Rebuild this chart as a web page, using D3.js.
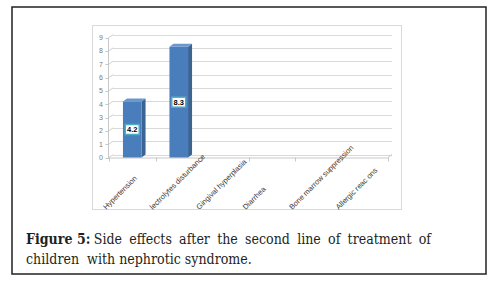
<!DOCTYPE html>
<html>
<head>
<meta charset="utf-8">
<script src="https://cdn.jsdelivr.net/npm/d3@7"></script>
<style>
    body { margin: 0; background: #fff; }
    svg { display: block; }
</style>
</head>
<body>
<script>
// chart values
var categories = ["Hypertension", "lectrolytes disturbance",
    "Gingival hyperplasia", "Diarrhea", "Bone marrow suppression",
    "Allergic reac ons"];
var values = [4.2, 8.3, null, null, null, null];
var yTicks = [0, 1, 2, 3, 4, 5, 6, 7, 8, 9];

var captionBold = "Figure 5:";
var captionLine1 = ["Side", "effects", "after", "the", "second", "line",
    "of", "treatment", "of"];
var captionLine2 = "children  with nephrotic syndrome.";

var W = 499, H = 283;
var depth = {x: 4, y: 3}; // fake 3d offset of the back wall

var svg = d3.select("body").append("svg")
    .attr("width", W)
    .attr("height", H);

// outer figure frame
svg.append("rect")
    .attr("x", 12).attr("y", 7)
    .attr("width", 474).attr("height", 267)
    .attr("fill", "none")
    .attr("stroke", "#222")
    .attr("stroke-width", 1.5);

// chart area frame
svg.append("rect")
    .attr("x", 92.5).attr("y", 25.5)
    .attr("width", 309).attr("height", 184)
    .attr("fill", "#fff")
    .attr("stroke", "#d9d9d9");

var xScale = d3.scaleBand()
    .domain(categories)
    .range([109, 388])
    .paddingInner(0.6)
    .paddingOuter(0.3);

var yScale = d3.scaleLinear()
    .domain([0, 9])
    .range([157.5, 37.5]);

var x0 = xScale.range()[0], x1 = xScale.range()[1];
var step = xScale.step();

// back wall gridlines + the little diagonal joining them to the axis
var grid = svg.append("g").attr("class", "grid");
grid.selectAll("line.wall")
    .data(yTicks)
    .enter().append("line")
    .attr("class", "wall")
    .attr("x1", x0 + depth.x)
    .attr("x2", x1 + depth.x)
    .attr("y1", function(d) { return Math.round(yScale(d) - depth.y) + 0.5; })
    .attr("y2", function(d) { return Math.round(yScale(d) - depth.y) + 0.5; })
    .attr("stroke", "#d9d9d9");
grid.selectAll("line.diag")
    .data(yTicks)
    .enter().append("line")
    .attr("class", "diag")
    .attr("x1", x0)
    .attr("x2", x0 + depth.x)
    .attr("y1", function(d) { return yScale(d); })
    .attr("y2", function(d) { return yScale(d) - depth.y; })
    .attr("stroke", "#d0d0d0");

// floor front edge and its right side
svg.append("line")
    .attr("x1", x0).attr("x2", x1)
    .attr("y1", yScale(0) + 0.5).attr("y2", yScale(0) + 0.5)
    .attr("stroke", "#c8c8c8");
svg.append("line")
    .attr("x1", x1).attr("x2", x1 + depth.x)
    .attr("y1", yScale(0)).attr("y2", yScale(0) - depth.y)
    .attr("stroke", "#c8c8c8");

// category tick marks on the floor edge
svg.selectAll("line.ctick")
    .data(d3.range(categories.length + 1))
    .enter().append("line")
    .attr("class", "ctick")
    .attr("x1", function(i) { return Math.round(x0 + i * step) + 0.5; })
    .attr("x2", function(i) { return Math.round(x0 + i * step) + 0.5; })
    .attr("y1", yScale(0))
    .attr("y2", yScale(0) + 4)
    .attr("stroke", "#c8c8c8");

// y axis line with ticks
svg.append("line")
    .attr("x1", x0 - 0.5).attr("x2", x0 - 0.5)
    .attr("y1", yScale(9)).attr("y2", yScale(0) + 1)
    .attr("stroke", "#c8c8c8");
svg.selectAll("line.ytick")
    .data(yTicks)
    .enter().append("line")
    .attr("class", "ytick")
    .attr("x1", x0 - 3.5).attr("x2", x0)
    .attr("y1", function(d) { return Math.round(yScale(d)) + 0.5; })
    .attr("y2", function(d) { return Math.round(yScale(d)) + 0.5; })
    .attr("stroke", "#c8c8c8");
svg.selectAll("text.ylab")
    .data(yTicks)
    .enter().append("text")
    .attr("class", "ylab")
    .attr("x", x0 - 6)
    .attr("y", function(d) { return yScale(d); })
    .attr("dy", "0.35em")
    .attr("text-anchor", "end")
    .attr("font-family", "Liberation Sans, Arial, sans-serif")
    .attr("font-size", "7px")
    .attr("fill", "#7a7a7a")
    .text(function(d) { return d; });

// bars: side face, top face, then front face
var barData = categories.map(function(c, i) {
    return {key: c, value: values[i]};
}).filter(function(d) { return d.value != null; });

var bars = svg.selectAll("g.bar")
    .data(barData)
    .enter().append("g")
    .attr("class", "bar");

bars.append("path")
    .attr("d", function(d) {
        var bx = xScale(d.key) + xScale.bandwidth(), top = yScale(d.value),
            bot = yScale(0);
        return "M" + bx + "," + top + "L" + (bx + depth.x) + "," +
            (top - depth.y) + "L" + (bx + depth.x) + "," + (bot - depth.y) +
            "L" + bx + "," + bot + "Z";
    })
    .attr("fill", "#3b6493");
bars.append("path")
    .attr("d", function(d) {
        var bx = xScale(d.key), bw = xScale.bandwidth(), top = yScale(d.value);
        return "M" + bx + "," + top + "L" + (bx + depth.x) + "," +
            (top - depth.y) + "L" + (bx + bw + depth.x) + "," +
            (top - depth.y) + "L" + (bx + bw) + "," + top + "Z";
    })
    .attr("fill", "#6b97cf");
bars.append("rect")
    .attr("x", function(d) { return xScale(d.key); })
    .attr("y", function(d) { return yScale(d.value); })
    .attr("width", xScale.bandwidth())
    .attr("height", function(d) { return yScale(0) - yScale(d.value); })
    .attr("fill", "#4a7dbb");

// value labels in the middle of each bar
bars.append("rect")
    .attr("x", function(d) { return xScale(d.key) + xScale.bandwidth() / 2 - 7; })
    .attr("y", function(d) { return yScale(d.value / 2) - 5; })
    .attr("width", 14).attr("height", 10)
    .attr("fill", "#fff")
    .attr("stroke", "#4bacc6")
    .attr("stroke-width", 1.5);
bars.append("text")
    .attr("x", function(d) { return xScale(d.key) + xScale.bandwidth() / 2; })
    .attr("y", function(d) { return yScale(d.value / 2); })
    .attr("dy", "0.35em")
    .attr("text-anchor", "middle")
    .attr("font-family", "Liberation Sans, Arial, sans-serif")
    .attr("font-size", "7.5px")
    .attr("font-weight", "bold")
    .attr("fill", "#000")
    .text(function(d) { return d.value; });

// rotated category labels, all starting on the same bottom line
svg.selectAll("text.xlab")
    .data(categories)
    .enter().append("text")
    .attr("class", "xlab")
    .attr("transform", function(d) {
        var cx = xScale(d) + xScale.bandwidth() / 2;
        return "translate(" + (cx - 26) + ",210) rotate(-45)";
    })
    .attr("font-family", "Liberation Sans, Arial, sans-serif")
    .attr("font-size", "7.5px")
    .attr("fill", "#383838")
    .text(function(d) { return d; });

// caption: bold lead, justified first line, plain second line
var capFont = "DejaVu Serif, serif";
var cap = svg.append("g")
    .attr("font-family", capFont)
    .attr("font-size", "14px")
    .attr("fill", "#231f20");

var line2 = cap.append("text")
    .attr("y", 264)
    .style("white-space", "pre")
    .text(captionLine2);
var sx = 226 / line2.node().getComputedTextLength();
cap.attr("transform", "translate(26,0) scale(" + sx + ",1)");

var lead = cap.append("text")
    .attr("y", 244)
    .attr("font-weight", "bold")
    .text(captionBold);
var leadW = lead.node().getComputedTextLength();
var spaceW = 3.5 / sx;

var words = cap.selectAll("text.w")
    .data(captionLine1)
    .enter().append("text")
    .attr("class", "w")
    .attr("y", 244)
    .text(function(d) { return d; });
var widths = [];
words.each(function() { widths.push(this.getComputedTextLength()); });
var startX = leadW + spaceW;
var total = 405 / sx - startX;
var gap = (total - d3.sum(widths)) / (captionLine1.length - 1);
var pos = [], cur = startX;
widths.forEach(function(w) { pos.push(cur); cur += w + gap; });
words.attr("x", function(d, i) { return pos[i]; });
</script>
</body>
</html>
